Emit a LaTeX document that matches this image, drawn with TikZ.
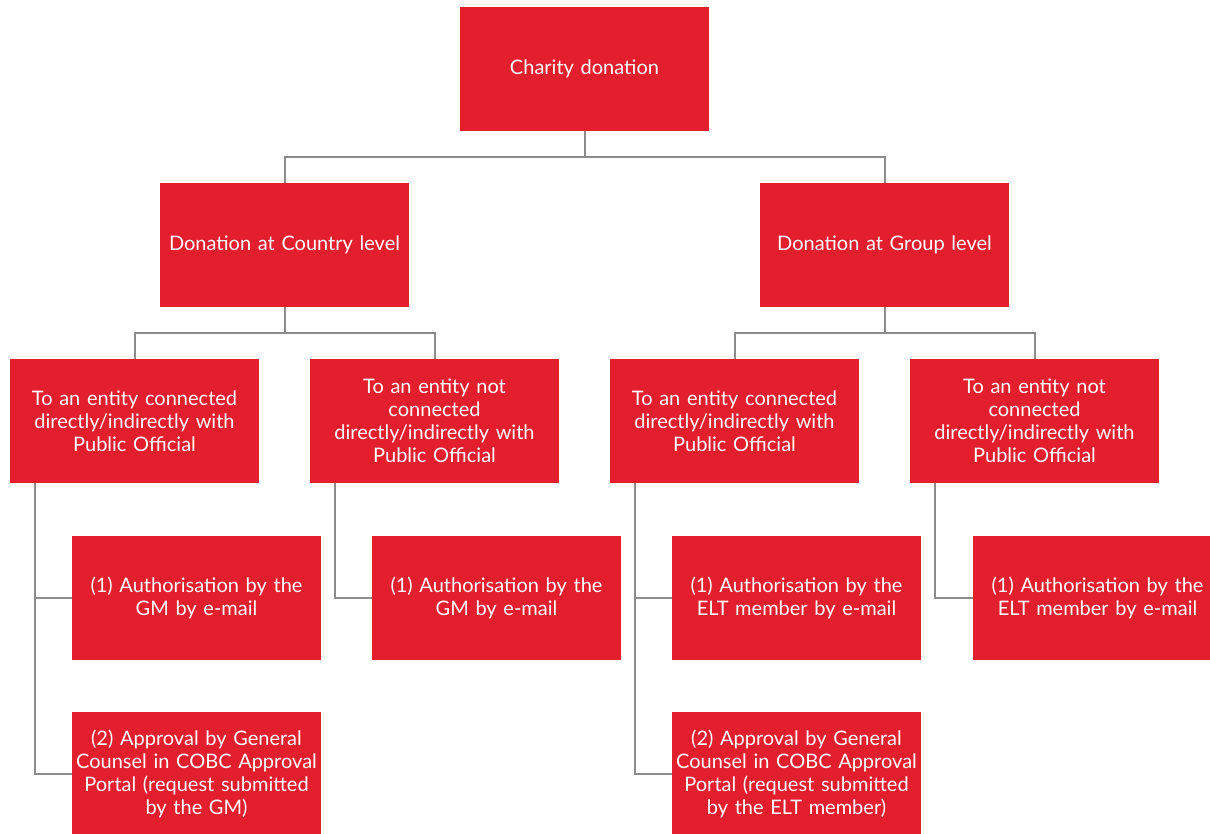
\documentclass[tikz,border=0pt]{standalone}
\usepackage{fontspec}
\setmainfont{Lato}
\definecolor{boxred}{HTML}{E31E2D}
\definecolor{linegray}{HTML}{8C8C8C}
\begin{document}
\begin{tikzpicture}[x=1pt,y=1pt,
  box/.style={fill=boxred, draw=none, text=white, minimum width=249pt, minimum height=124pt,
    inner sep=0pt, align=center, text width=249pt, font=\fontsize{20}{23}\selectfont},
  conn/.style={draw=linegray, line width=2pt}]
\useasboundingbox (0,0) rectangle (1210,-834);
\clip (0,0) rectangle (1210,-834);
\node[box] (top) at (584.5,-69) {Charity donation};
\node[box] (country) at (284.5,-245) {Donation at Country level};
\node[box] (group) at (884.5,-245) {Donation at Group level};
\node[box] (a) at (134.5,-421) {To an entity connected\\directly/indirectly with\\Public Official};
\node[box] (b) at (434.5,-421) {To an entity not\\connected\\directly/indirectly with\\Public Official};
\node[box] (c) at (734.5,-421) {To an entity connected\\directly/indirectly with\\Public Official};
\node[box] (d) at (1034.5,-421) {To an entity not\\connected\\directly/indirectly with\\Public Official};
\node[box] (a1) at (196.5,-598) {(1) Authorisation by the\\GM by e-mail};
\node[box] (a2) at (196.5,-774) {(2) Approval by General\\Counsel in COBC Approval\\Portal (request submitted\\by the GM)};
\node[box] (b1) at (496.5,-598) {(1) Authorisation by the\\GM by e-mail};
\node[box] (c1) at (796.5,-598) {(1) Authorisation by the\\ELT member by e-mail};
\node[box] (c2) at (796.5,-774) {(2) Approval by General\\Counsel in COBC Approval\\Portal (request submitted\\by the ELT member)};
\node[box] (d1) at (1097.5,-598) {(1) Authorisation by the\\ELT member by e-mail};
% connectors
\draw[conn] (top.south) -- +(0,-26) -| (country.north);
\draw[conn] (top.south) -- +(0,-26) -| (group.north);
\draw[conn] (country.south) -- +(0,-26) -| (a.north);
\draw[conn] (country.south) -- +(0,-26) -| (b.north);
\draw[conn] (group.south) -- +(0,-26) -| (c.north);
\draw[conn] (group.south) -- +(0,-26) -| (d.north);
\coordinate (ta) at ([xshift=25pt]a.south west);
\coordinate (tb) at ([xshift=25pt]b.south west);
\coordinate (tc) at ([xshift=25pt]c.south west);
\coordinate (td) at ([xshift=25pt]d.south west);
\draw[conn] (ta) |- (a1.west);
\draw[conn] (ta) |- (a2.west);
\draw[conn] (tb) |- (b1.west);
\draw[conn] (tc) |- (c1.west);
\draw[conn] (tc) |- (c2.west);
\draw[conn] (td) |- (d1.west);
\end{tikzpicture}
\end{document}
